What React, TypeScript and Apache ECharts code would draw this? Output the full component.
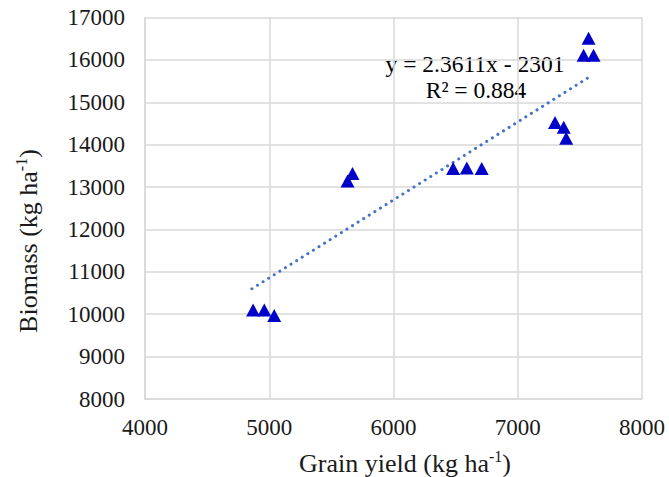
import React, { useEffect, useRef } from "react";
import * as echarts from "echarts";

// Grain yield (kg/ha) of each plot
const grainYield = [4870, 4960, 5040, 5630, 5670, 6480, 6590, 6710, 7300, 7370, 7390, 7530, 7570, 7610];
// Biomass (kg/ha) of each plot
const biomass = [10100, 10100, 9970, 13140, 13320, 13440, 13450, 13440, 14520, 14410, 14150, 16110, 16510, 16110];
// Linear trendline end points, as drawn
const trendX = [4860, 7600];
const trendY = [10600, 15640];

// Axis ranges (tick labels every 1000)
const xRange = [4000, 8000];
const yRange = [8000, 17000];
const tickStep = 1000;

const equationText = "y = 2.3611x - 2301";
const r2Text = "R\u00B2 = 0.884";
const xTitle = ["Grain yield (kg ha", "-1", ")"];
const yTitle = ["Biomass (kg ha", "-1", ")"];

const FONT = "Liberation Serif";
const TEXT = "#1a1a1a";

export default function App() {
  const ref = useRef<HTMLDivElement>(null);
  useEffect(() => {
    document.body.style.margin = "0";
    const chart = echarts.init(ref.current as HTMLDivElement, null, { renderer: "svg" });
    const rich = {
      a: { fontSize: 26, fontFamily: FONT, lineHeight: 30, fill: TEXT },
      s: { fontSize: 16, fontFamily: FONT, lineHeight: 16, fill: TEXT, verticalAlign: "top" },
    };
    const gridLine = { show: true, lineStyle: { color: "#d9d9d9", width: 1.5 } };
    const label = (margin: number) => ({
      fontFamily: FONT,
      fontSize: 23,
      color: TEXT,
      margin,
      formatter: (v: number) => String(v),
    });
    chart.setOption({
      animation: false,
      grid: { left: 145, right: 27, top: 17.5, bottom: 78, containLabel: false },
      xAxis: {
        type: "value",
        min: xRange[0],
        max: xRange[1],
        interval: tickStep,
        axisLine: { show: true, lineStyle: { color: "#d9d9d9", width: 1.5 } },
        axisTick: { show: false },
        axisLabel: label(17),
        splitLine: gridLine,
      },
      yAxis: {
        type: "value",
        min: yRange[0],
        max: yRange[1],
        interval: tickStep,
        axisLine: { show: true, lineStyle: { color: "#d9d9d9", width: 1.5 } },
        axisTick: { show: false },
        axisLabel: label(20),
        splitLine: gridLine,
      },
      series: [
        {
          type: "line",
          data: trendX.map((x, i) => [x, trendY[i]]),
          symbol: "none",
          silent: true,
          lineStyle: { color: "#4472c4", width: 3, type: [0.1, 6.5], cap: "round" },
          z: 2,
        },
        {
          type: "scatter",
          data: grainYield.map((x, i) => [x, biomass[i]]),
          symbol: "triangle",
          symbolSize: [14, 13],
          itemStyle: { color: "#0000c8", opacity: 1 },
          z: 3,
        },
      ],
      graphic: [
        {
          type: "text",
          x: 475,
          y: 64,
          style: {
            text: equationText,
            font: `23.5px ${FONT}`,
            fill: "#000",
            align: "center",
            verticalAlign: "middle",
          },
        },
        {
          type: "text",
          x: 476,
          y: 90,
          style: {
            text: r2Text,
            font: `23.5px ${FONT}`,
            fill: "#000",
            align: "center",
            verticalAlign: "middle",
          },
        },
        {
          type: "text",
          x: 405,
          y: 463,
          style: {
            text: `{a|${xTitle[0]}}{s|${xTitle[1]}}{a|${xTitle[2]}}`,
            rich,
            align: "center",
            verticalAlign: "middle",
          },
        },
        {
          type: "text",
          x: 28,
          y: 241,
          rotation: Math.PI / 2,
          style: {
            text: `{a|${yTitle[0]}}{s|${yTitle[1]}}{a|${yTitle[2]}}`,
            rich,
            align: "center",
            verticalAlign: "middle",
          },
        },
      ],
    });
    return () => chart.dispose();
  }, []);
  return <div ref={ref} style={{ width: 669, height: 477 }} />;
}
